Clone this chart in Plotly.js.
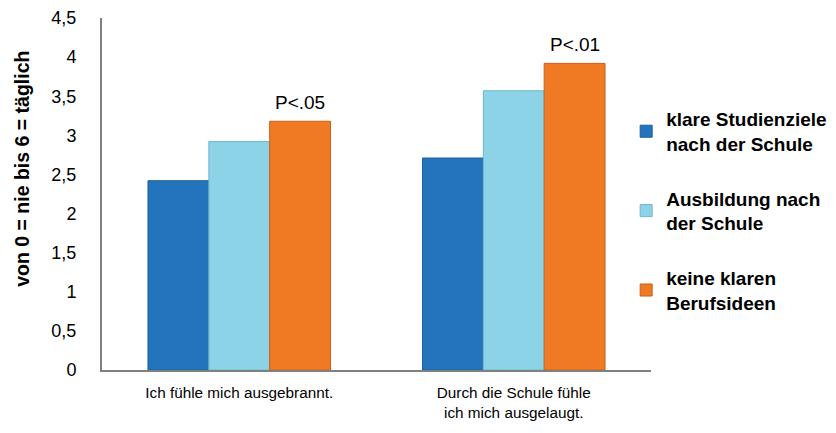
<!DOCTYPE html>
<html>
<head>
<meta charset="utf-8">
<script src="https://cdn.plot.ly/plotly-3.0.1.min.js"></script>
<style>
  html, body { margin: 0; padding: 0; background: #fff; }
  #chart { width: 836px; height: 433px; }
</style>
</head>
<body>
<div id="chart"></div>
<script>
// Kategorien (x-Achse)
const categories = ['Ich fühle mich ausgebrannt.', 'Durch die Schule fühle<br>ich mich ausgelaugt.'];

// Mittelwerte je Gruppe
const studienziele = [2.42, 2.71];
const ausbildung = [2.92, 3.57];
const keineIdeen = [3.18, 3.92];

// Signifikanzangaben über den Balken der dritten Gruppe
const pLabels = ['P<.05', 'P<.01'];

const seriesNames = [
  'klare Studienziele<br>nach der Schule',
  'Ausbildung nach<br>der Schule',
  'keine klaren<br>Berufsideen'
];
const seriesColors = ['#2474BD', '#8DD3E7', '#F07A24'];
const seriesEdges = ['#1C5E9C', '#6FB6CA', '#C9611A'];
const seriesValues = [studienziele, ausbildung, keineIdeen];

const traces = seriesValues.map((vals, i) => ({
  type: 'bar',
  name: seriesNames[i],
  x: categories,
  y: vals,
  legendgroup: 'g' + i,
  marker: { color: seriesColors[i], line: { color: seriesEdges[i], width: 1 } },
  hoverinfo: 'skip'
}));

const font = 'Arial, "Liberation Sans", sans-serif';

// P-Werte über den orangefarbenen Balken
const annotations = pLabels.map((t, i) => ({
  text: t,
  xref: 'x', yref: 'y',
  x: i + 0.222,
  y: keineIdeen[i],
  xanchor: 'center',
  yanchor: 'bottom',
  yshift: 6,
  showarrow: false,
  font: { family: font, size: 19, color: '#000' }
}));

// Achsentitel links
annotations.push({
  text: '<b>von 0 = nie bis 6 = täglich</b>',
  xref: 'paper', yref: 'paper',
  x: -0.146, y: 0.571,
  xanchor: 'center', yanchor: 'middle',
  textangle: -90,
  showarrow: false,
  font: { family: font, size: 19.5, color: '#000' }
});

const layout = {
  width: 836, height: 433,
  margin: { l: 102, r: 185, t: 18, b: 63, autoexpand: false },
  paper_bgcolor: '#fff', plot_bgcolor: '#fff',
  separators: ', ',
  barmode: 'group',
  bargap: 0.335,
  bargroupgap: 0,
  font: { family: font, color: '#000' },
  xaxis: {
    type: 'category',
    showline: true, linecolor: '#808080', linewidth: 2,
    showgrid: false, zeroline: false, ticks: '',
    ticklabelstandoff: 8,
    tickfont: { family: font, size: 15.3, color: '#000' }
  },
  yaxis: {
    range: [0, 4.5], dtick: 0.5, tick0: 0,
    showline: true, linecolor: '#808080', linewidth: 2,
    showgrid: false, zeroline: false, ticks: '',
    ticklabelstandoff: 20,
    tickfont: { family: font, size: 18, color: '#000' }
  },
  legend: {
    xref: 'container', yref: 'container',
    x: 0.749, xanchor: 'left',
    y: 0.769, yanchor: 'top',
    tracegroupgap: 27,
    font: { family: font, size: 19, color: '#000', weight: 'bold' },
    bgcolor: 'rgba(0,0,0,0)'
  },
  annotations: annotations,
  showlegend: true
};

Plotly.newPlot('chart', traces, layout, { displayModeBar: false, staticPlot: true });
</script>
</body>
</html>
